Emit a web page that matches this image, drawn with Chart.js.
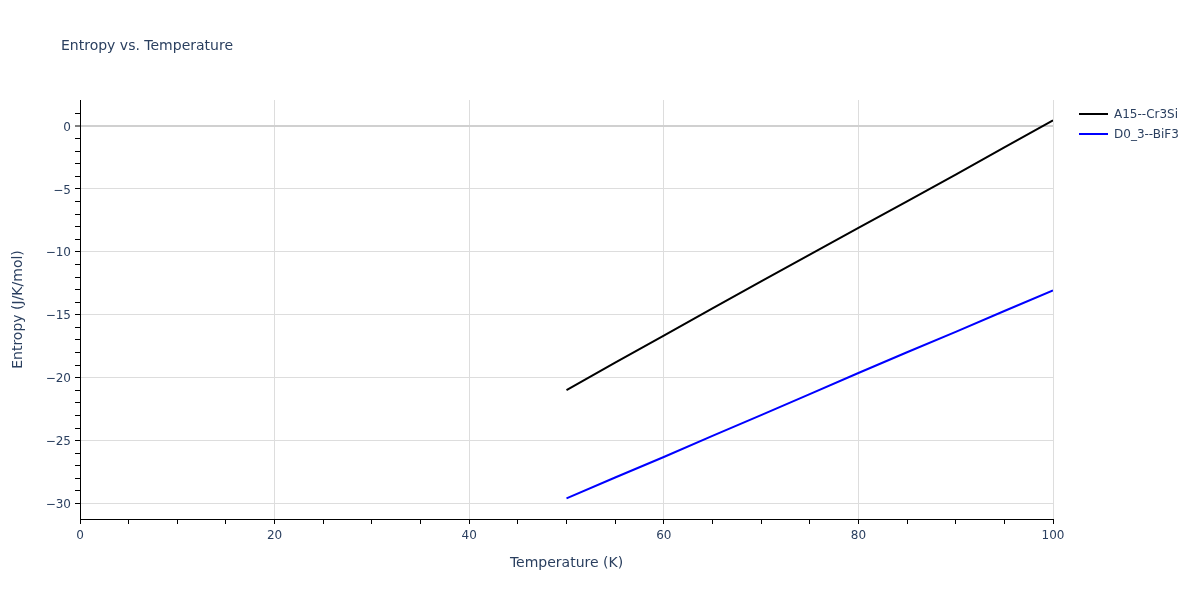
<!DOCTYPE html>
<html>
<head>
<meta charset="utf-8">
<script src="https://cdn.jsdelivr.net/npm/chart.js@4/dist/chart.umd.min.js"></script>
<style>
  html, body { margin: 0; padding: 0; background: #fff; }
  #wrap { width: 1200px; height: 600px; position: relative; }
</style>
</head>
<body>
<div id="wrap"><canvas id="entropyChart"></canvas></div>
<script>
// data
const temperatures = [50, 55, 60, 65, 70, 75, 80, 85, 90, 95, 100];
const entropyA15 = [-20.99, -18.8, -16.65, -14.5, -12.35, -10.22, -8.1, -5.98, -3.86, -1.7, 0.46];
const entropyD03 = [-29.59, -27.93, -26.3, -24.63, -22.97, -21.3, -19.63, -17.98, -16.36, -14.7, -13.07];
const seriesNames = ['A15--Cr3Si', 'D0_3--BiF3'];
const seriesColors = ['#000000', '#0000ff'];

const FONT = '"DejaVu Sans", Verdana, sans-serif';
const TEXT = '#2a3f5f';

const toPoints = (ys) => ys.map((y, i) => ({ x: temperatures[i], y: y }));

// title + legend drawn on the canvas, outside the plot area
const decorPlugin = {
  id: 'decor',
  afterDraw(chart) {
    const ctx = chart.ctx;
    ctx.save();
    ctx.fillStyle = TEXT;
    ctx.font = '14px ' + FONT;
    ctx.textBaseline = 'middle';
    ctx.textAlign = 'left';
    ctx.fillText('Entropy vs. Temperature', 61, 46);

    ctx.font = '12px ' + FONT;
    seriesNames.forEach((name, i) => {
      const y = 114 + i * 20;
      ctx.strokeStyle = seriesColors[i];
      ctx.lineWidth = 2;
      ctx.beginPath();
      ctx.moveTo(1079, y);
      ctx.lineTo(1108, y);
      ctx.stroke();
      ctx.fillStyle = TEXT;
      ctx.fillText(name, 1114, y + 1);
    });
    ctx.restore();
  }
};

const fmt = (v) => {
  const r = Math.round(v);
  return r < 0 ? '\u2212' + Math.abs(r) : String(r);
};
const isInt = (v) => Math.abs(v - Math.round(v)) < 1e-6;

new Chart(document.getElementById('entropyChart'), {
  type: 'line',
  data: {
    datasets: [
      { label: seriesNames[0], data: toPoints(entropyA15), borderColor: seriesColors[0], borderWidth: 2, pointRadius: 0, tension: 0 },
      { label: seriesNames[1], data: toPoints(entropyD03), borderColor: seriesColors[1], borderWidth: 2, pointRadius: 0, tension: 0 }
    ]
  },
  options: {
    responsive: true,
    maintainAspectRatio: false,
    animation: false,
    layout: { padding: { left: 0, top: 100, right: 147, bottom: 0 } },
    plugins: {
      legend: { display: false },
      title: { display: false },
      tooltip: { enabled: false }
    },
    scales: {
      x: {
        type: 'linear',
        min: 0,
        max: 100,
        afterFit: (s) => { s.height = 81; },
        ticks: {
          stepSize: 5,
          autoSkip: false,
          maxRotation: 0,
          padding: 5,
          color: TEXT,
          font: { family: FONT, size: 12 },
          callback: (v) => (Math.round(v) % 20 === 0 ? String(Math.round(v)) : '')
        },
        grid: {
          color: (c) => (c.tick && Math.round(c.tick.value) % 20 === 0 ? '#dddddd' : 'rgba(0,0,0,0)'),
          lineWidth: 1,
          tickLength: 5,
          tickColor: '#000000',
          tickWidth: 1
        },
        border: { display: true, color: '#000000', width: 1 },
        title: {
          display: true,
          text: 'Temperature (K)',
          color: TEXT,
          font: { family: FONT, size: 14 },
          padding: { top: 0, bottom: 28.6 }
        }
      },
      y: {
        type: 'linear',
        min: -31.23,
        max: 2.07,
        afterFit: (s) => { s.width = 80; },
        ticks: {
          stepSize: 1,
          autoSkip: false,
          padding: 4,
          labelOffset: 1.5,
          color: TEXT,
          font: { family: FONT, size: 12 },
          callback: (v) => (isInt(v) && Math.round(v) % 5 === 0 ? fmt(v) : '')
        },
        grid: {
          color: (c) => {
            const v = c.tick ? c.tick.value : NaN;
            if (!isInt(v)) return 'rgba(0,0,0,0)';
            if (Math.round(v) === 0) return '#d0d0d0';
            return Math.round(v) % 5 === 0 ? '#dddddd' : 'rgba(0,0,0,0)';
          },
          lineWidth: (c) => (c.tick && isInt(c.tick.value) && Math.round(c.tick.value) === 0 ? 2 : 1),
          tickLength: 5,
          tickColor: (c) => (c.tick && isInt(c.tick.value) ? '#000000' : 'rgba(0,0,0,0)'),
          tickWidth: 1
        },
        border: { display: true, color: '#000000', width: 1 },
        title: {
          display: true,
          text: 'Entropy (J/K/mol)',
          color: TEXT,
          font: { family: FONT, size: 14 },
          padding: { top: 9.6, bottom: 0 }
        }
      }
    }
  },
  plugins: [decorPlugin]
});
</script>
</body>
</html>
